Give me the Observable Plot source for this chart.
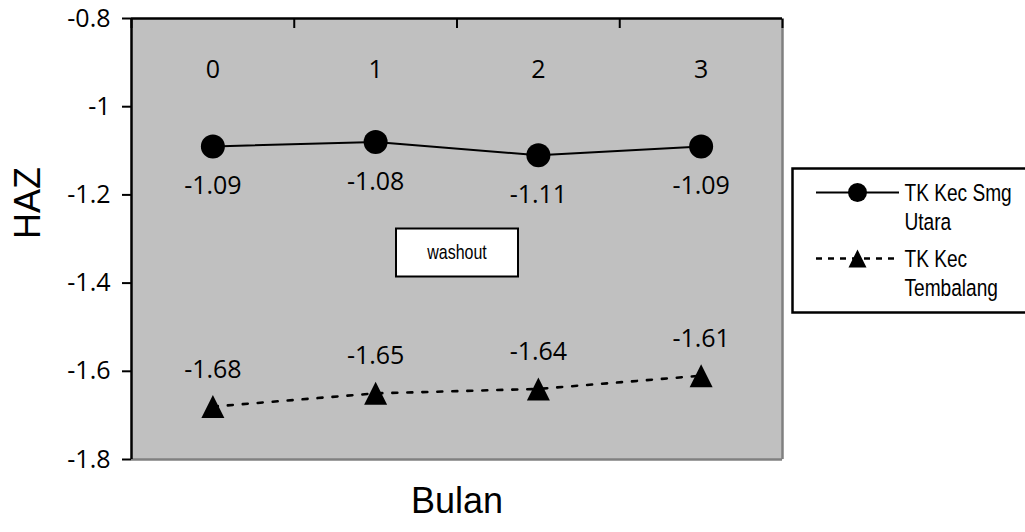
<!DOCTYPE html>
<html>
<head>
<meta charset="utf-8">
<script src="https://cdn.jsdelivr.net/npm/d3@7"></script>
<script src="https://cdn.jsdelivr.net/npm/@observablehq/plot@0.6"></script>
<style>
  html, body { margin: 0; padding: 0; background: #fff; }
  #chart { width: 1025px; height: 532px; }
</style>
</head>
<body>
<div id="chart"></div>
<script>
// ---- data ----
const months = [0, 1, 2, 3];
const seriesNames = ["TK Kec Smg Utara", "TK Kec Tembalang"];
const smgUtara = [-1.09, -1.08, -1.11, -1.09];
const tembalang = [-1.68, -1.65, -1.64, -1.61];
const yTicks = [-0.8, -1, -1.2, -1.4, -1.6, -1.8];
const xTitle = "Bulan";
const yTitle = "HAZ";
const noteText = "washout";

const rowsA = months.map((m, i) => ({month: m, value: smgUtara[i], series: seriesNames[0]}));
const rowsB = months.map((m, i) => ({month: m, value: tembalang[i], series: seriesNames[1]}));
const boundaries = months.map(m => m - 0.5).concat([months[months.length - 1] + 0.5]);

// ---- styles ----
const numFont = "Open Sans, Noto Sans, DejaVu Sans, sans-serif";
const titleFont = "Liberation Sans, Arial, sans-serif";
const narrowFont = "Liberation Sans, Arial, sans-serif";

const circleSym = r => ({draw(ctx) { ctx.moveTo(r, 0); ctx.arc(0, 0, r, 0, 2 * Math.PI); }});
const triSym = h => ({draw(ctx) { ctx.moveTo(0, -h); ctx.lineTo(h, h); ctx.lineTo(-h, h); ctx.closePath(); }});
const boxSym = (w, h) => ({draw(ctx) { ctx.rect(-w / 2, -h / 2, w, h); }});
const segSym = half => ({draw(ctx) { ctx.moveTo(-half, 0); ctx.lineTo(half, 0); }});

const legendLabels = seriesNames.map(s => s.replace(/ (\S+)$/, "\n$1"));
const narrow = {ariaDescription: "narrow", fontFamily: narrowFont};

const chart = Plot.plot({
  width: 1025,
  height: 532,
  marginLeft: 131,
  marginRight: 243,
  marginTop: 18,
  marginBottom: 73,
  style: {background: "#fff", color: "#000", overflow: "visible"},
  x: {type: "linear", domain: [boundaries[0], boundaries[boundaries.length - 1]]},
  y: {domain: [yTicks[yTicks.length - 1], yTicks[0]]},
  marks: [
    Plot.frame({fill: "#c0c0c0", stroke: null}),
    // plot area borders
    Plot.ruleY([yTicks[yTicks.length - 1]], {stroke: "#808080", strokeWidth: 2.5}),
    Plot.ruleX([boundaries[boundaries.length - 1]], {stroke: "#808080", strokeWidth: 2.5}),
    Plot.ruleY([yTicks[0]], {stroke: "#000", strokeWidth: 2.5}),
    Plot.ruleX([boundaries[0]], {stroke: "#000", strokeWidth: 2.5}),
    // y axis
    Plot.axisY({
      ticks: yTicks, tickSize: 9, tickPadding: 12, tickFormat: d => String(d),
      fontSize: 25, fontFamily: numFont, label: null, strokeWidth: 2
    }),
    // top x axis boundary ticks (pointing inward)
    Plot.axisX({anchor: "top", ticks: boundaries, tickSize: -9, tickFormat: () => "", label: null, strokeWidth: 2}),
    // category labels inside the top of the plot area
    Plot.text(months, {x: d => d, frameAnchor: "top", dy: 42, text: d => String(d), fontSize: 25, fontFamily: numFont}),
    // axis titles
    Plot.text([yTitle], {frameAnchor: "left", dx: -103, rotate: -90, text: d => d, fontSize: 36, fontFamily: titleFont}),
    Plot.text([xTitle], {frameAnchor: "bottom", dy: 53, text: d => d, fontSize: 36, fontFamily: titleFont}),
    // washout box
    Plot.dot([noteText], {frameAnchor: "middle", dy: 13.5, symbol: boxSym(122, 48), fill: "#fff", stroke: "#000", strokeWidth: 2}),
    Plot.text([noteText], {...narrow, frameAnchor: "middle", dy: 13.5, text: d => d, fontSize: 20.5}),
    // series A: solid line with circles
    Plot.line(rowsA, {x: "month", y: "value", stroke: "#000", strokeWidth: 2}),
    Plot.dot(rowsA, {x: "month", y: "value", symbol: circleSym(12), fill: "#000", stroke: null}),
    Plot.text(rowsA, {x: "month", y: "value", dy: 40, text: d => d.value.toFixed(2), fontSize: 25, fontFamily: numFont}),
    // series B: dashed line with triangles
    Plot.line(rowsB, {x: "month", y: "value", stroke: "#000", strokeWidth: 2.6, strokeDasharray: "5,10"}),
    Plot.dot(rowsB, {x: "month", y: "value", symbol: triSym(11.5), fill: "#000", stroke: null}),
    Plot.text(rowsB, {x: "month", y: "value", dy: -37, text: d => d.value.toFixed(2), fontSize: 25, fontFamily: numFont}),
    // legend
    Plot.dot([0], {frameAnchor: "right", dx: 135, dy: 1.5, symbol: boxSym(250, 144), fill: "#fff", stroke: "#000", strokeWidth: 2.5}),
    Plot.dot([0], {frameAnchor: "right", dx: 75, dy: -46.5, symbol: segSym(41.5), fill: "none", stroke: "#000", strokeWidth: 2}),
    Plot.dot([0], {frameAnchor: "right", dx: 75, dy: -46.5, symbol: circleSym(9.5), fill: "#000", stroke: null}),
    Plot.dot([0], {frameAnchor: "right", dx: 75, dy: 19.5, symbol: segSym(41.5), fill: "none", stroke: "#000", strokeWidth: 2.6, strokeDasharray: "6,6"}),
    Plot.dot([0], {frameAnchor: "right", dx: 75, dy: 19.5, symbol: triSym(9), fill: "#000", stroke: null}),
    Plot.text([legendLabels[0]], {...narrow, frameAnchor: "right", dx: 122, dy: -32.5, text: d => d, textAnchor: "start", lineAnchor: "middle", lineHeight: 1.17, fontSize: 24.5}),
    Plot.text([legendLabels[1]], {...narrow, frameAnchor: "right", dx: 122, dy: 33.5, text: d => d, textAnchor: "start", lineAnchor: "middle", lineHeight: 1.17, fontSize: 24.5})
  ]
});
// condense the narrow-font texts horizontally (Arial Narrow look)
chart.querySelectorAll('g[aria-description="narrow"] text').forEach(t => {
  const tr = t.getAttribute("transform") || "";
  t.setAttribute("transform", `${tr} scale(0.78,1)`);
});
document.getElementById("chart").appendChild(chart);
</script>
</body>
</html>
